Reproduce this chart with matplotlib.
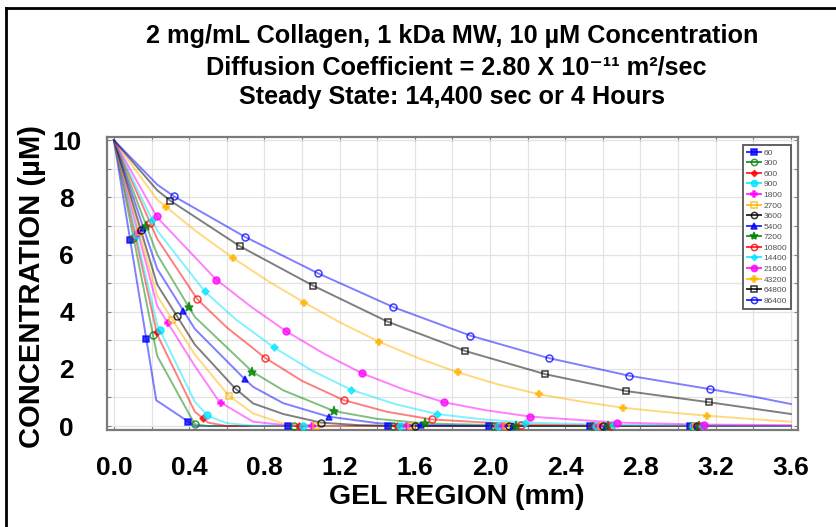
import numpy as np
import matplotlib
matplotlib.use("Agg")
import matplotlib.pyplot as plt
from matplotlib.lines import Line2D
from matplotlib.ticker import MultipleLocator

plt.rcParams['font.family'] = ['Liberation Sans', 'DejaVu Sans']

# ---- concentration profiles (uM) vs gel position (mm), one per time (s) ----
times = [60, 300, 600, 900, 1800, 2700, 3600, 5400, 7200,
         10800, 14400, 21600, 43200, 64800, 86400]

x_60 = [0, 0.225, 0.43, 3.6]
y_60 = [10, 0.9, 0.0, 0.0]

x_300 = [0, 0.23, 0.43, 0.5, 3.6]
y_300 = [10, 2.45, 0.06, 0.0, 0.0]

x_600 = [0, 0.23, 0.43, 0.5, 0.6, 3.6]
y_600 = [10, 3.2, 0.5, 0.12, 0.0, 0.0]

x_900 = [0, 0.23, 0.43, 0.5, 0.6, 0.74, 3.6]
y_900 = [10, 3.55, 0.85, 0.35, 0.1, 0.01, 0.0]

x_1800 = [0, 0.23, 0.43, 0.56, 0.74, 0.9, 1.05, 3.6]
y_1800 = [10, 4.2, 2.1, 0.85, 0.15, 0.04, 0.0, 0.0]

x_2700 = [0, 0.23, 0.43, 0.608, 0.74, 0.9, 1.1, 3.6]
y_2700 = [10, 4.55, 2.5, 1.08, 0.44, 0.08, 0.0, 0.0]

x_3600 = [0, 0.23, 0.43, 0.644, 0.74, 0.9, 1.1, 1.3, 1.5, 3.6]
y_3600 = [10, 4.95, 2.85, 1.32, 0.79, 0.42, 0.12, 0.03, 0.0, 0.0]

x_5400 = [0, 0.23, 0.43, 0.697, 0.74, 0.9, 1.14, 1.4, 1.63, 2.0, 3.6]
y_5400 = [10, 5.5, 3.4, 1.63, 1.37, 0.8, 0.33, 0.1, 0.03, 0.0, 0.0]

x_7200 = [0, 0.23, 0.43, 0.736, 0.9, 1.172, 1.4, 1.654, 2.2, 3.6]
y_7200 = [10, 6.0, 3.82, 1.90, 1.25, 0.52, 0.25, 0.09, 0.0, 0.0]

x_10800 = [0, 0.23, 0.443, 0.6, 0.803, 1.0, 1.22, 1.45, 1.69, 2.165, 2.7, 3.6]
y_10800 = [10, 6.55, 4.44, 3.45, 2.39, 1.58, 0.91, 0.5, 0.23, 0.05, 0.01, 0.0]

x_14400 = [0, 0.23, 0.484, 0.65, 0.851, 1.05, 1.264, 1.5, 1.716, 1.95, 2.19, 2.7, 3.6]
y_14400 = [10, 6.84, 4.70, 3.72, 2.75, 1.95, 1.26, 0.76, 0.42, 0.24, 0.12, 0.03, 0.0]

x_21600 = [0, 0.23, 0.543, 0.73, 0.915, 1.12, 1.321, 1.54, 1.755, 1.98, 2.213,
           2.674, 3.13, 3.6]
y_21600 = [10, 7.3, 5.13, 4.17, 3.32, 2.52, 1.84, 1.28, 0.83, 0.55, 0.33,
           0.12, 0.05, 0.03]

x_43200 = [0, 0.23, 0.43, 0.631, 0.82, 1.012, 1.21, 1.41, 1.62, 1.828, 2.04,
           2.262, 2.48, 2.706, 2.93, 3.152, 3.38, 3.6]
y_43200 = [10, 7.92, 6.85, 5.89, 5.07, 4.32, 3.6, 2.95, 2.37, 1.88, 1.46,
           1.11, 0.86, 0.64, 0.49, 0.36, 0.25, 0.15]

x_64800 = [0, 0.23, 0.301, 0.670, 1.06, 1.456, 1.871, 2.296, 2.727, 3.167, 3.6]
y_64800 = [10, 8.25, 7.88, 6.29, 4.91, 3.65, 2.62, 1.81, 1.22, 0.83, 0.42]

x_86400 = [0, 0.23, 0.319, 0.697, 1.087, 1.486, 1.897, 2.31, 2.74, 3.17, 3.4, 3.6]
y_86400 = [10, 8.45, 8.04, 6.62, 5.34, 4.16, 3.16, 2.38, 1.76, 1.29, 1.03, 0.77]

series_x = [x_60, x_300, x_600, x_900, x_1800, x_2700, x_3600, x_5400, x_7200,
            x_10800, x_14400, x_21600, x_43200, x_64800, x_86400]
series_y = [y_60, y_300, y_600, y_900, y_1800, y_2700, y_3600, y_5400, y_7200,
            y_10800, y_14400, y_21600, y_43200, y_64800, y_86400]

x_ticks = [0.0, 0.4, 0.8, 1.2, 1.6, 2.0, 2.4, 2.8, 3.2, 3.6]
y_ticks = [0, 2, 4, 6, 8, 10]

# ---- styles ----
palette = ['#0000ff', '#008000', '#ff0000', '#00e5ff', '#ff00ff', '#ffb300', '#000000']
marker_cycle = [('s', True), ('o', False), ('D', True), ('o', True), ('P', True),
                ('s', False), ('o', False), ('^', True), ('*', True), ('o', False),
                ('D', True), ('o', True), ('P', True), ('s', False), ('o', False)]
marker_size = {'s': 4.5, 'o': 5.0, 'D': 3.5, 'P': 5.0, '^': 5.0, '*': 6.5}

fig = plt.figure(figsize=(8.36, 5.27), dpi=100)
ax = fig.add_axes([107 / 836, (527 - 430) / 527, 691 / 836, 293 / 527])
ax.set_xlim(-0.037, 3.638)
ax.set_ylim(-0.14, 10.115)


def arc_markers(xs, ys, n=8):
    """Points spaced evenly along the drawn polyline (display space)."""
    pts = ax.transData.transform(np.column_stack([xs, ys]))
    seg = np.hypot(*np.diff(pts, axis=0).T)
    cum = np.concatenate([[0.0], np.cumsum(seg)])
    targets = cum[-1] * np.arange(1, n + 1) / (n + 1)
    mx = np.interp(targets, cum, pts[:, 0])
    my = np.interp(targets, cum, pts[:, 1])
    return ax.transData.inverted().transform(np.column_stack([mx, my]))


handles = []
for i, (t, xs, ys) in enumerate(zip(times, series_x, series_y)):
    col = palette[i % len(palette)]
    mk, fill = marker_cycle[i]
    ms = marker_size[mk]
    mfc = col if fill else 'none'
    ax.plot(xs, ys, color=col, alpha=0.5, lw=1.4, zorder=3)
    mpts = arc_markers(xs, ys)
    ax.plot(mpts[:, 0], mpts[:, 1], ls='none', marker=mk, ms=ms, mfc=mfc,
            mec=col, mew=1.1, alpha=0.75, zorder=4)
    handles.append(Line2D([], [], color=col, lw=1.4, marker=mk, ms=ms - 0.5,
                          mfc=mfc, mec=col, mew=1.1, alpha=0.8, label=str(t)))

# axes styling
ax.xaxis.set_minor_locator(MultipleLocator(0.2))
ax.yaxis.set_minor_locator(MultipleLocator(1))
ax.set_xticks(x_ticks)
ax.set_xticklabels([f"{v:.1f}" for v in x_ticks])
ax.set_yticks(y_ticks)
ax.set_yticklabels([str(v) for v in y_ticks])
ax.grid(True, which='both', color='#e3e3e3', lw=0.9, zorder=0)
ax.tick_params(which='both', direction='in', length=3, color='#808080',
               top=True, right=True, width=0.8)
ax.tick_params(axis='x', pad=19, labelsize=19)
ax.tick_params(axis='y', pad=29, labelsize=19)
for lab in ax.get_xticklabels() + ax.get_yticklabels():
    lab.set_fontweight('bold')
for lab in ax.get_yticklabels():
    lab.set_horizontalalignment('center')
for sp in ax.spines.values():
    sp.set_color('#7a7a7a')
    sp.set_linewidth(1.6)

leg = ax.legend(handles=handles, loc='upper right',
                bbox_to_anchor=(791 / 836, 1 - 145 / 527),
                bbox_transform=fig.transFigure, borderaxespad=0,
                fontsize=6, handlelength=1.7, handletextpad=0.35,
                labelspacing=0.33, borderpad=0.45, fancybox=False,
                framealpha=1, edgecolor='#555555')
leg.get_frame().set_linewidth(1.3)
for txt in leg.get_texts():
    txt.set_color('#505050')

# titles and axis names
title_font = dict(ha='center', va='center', fontsize=18.2, fontweight='bold',
                  family=['Liberation Sans', 'DejaVu Sans'])
fig.text(452 / 836, 1 - 36 / 527,
         "2 mg/mL Collagen, 1 kDa MW, 10 \u00b5M Concentration", **title_font)
fig.text(456 / 836, 1 - 67 / 527,
         "Diffusion Coefficient = 2.80 X 10\u207b\u00b9\u00b9 m\u00b2/sec", **title_font)
fig.text(452 / 836, 1 - 97 / 527,
         "Steady State: 14,400 sec or 4 Hours", **title_font)
fig.text(457 / 836, 1 - 497 / 527, "GEL REGION (mm)",
         ha='center', va='center', fontsize=20.5, fontweight='bold')
fig.text(32 / 836, 1 - 287 / 527, "CONCENTRATION (\u00b5M)", rotation=90,
         ha='center', va='center', fontsize=21, fontweight='bold')

# outer frame (top and left edges)
fig.add_artist(Line2D([6 / 836, 1.0], [1 - 8 / 527, 1 - 8 / 527],
                      transform=fig.transFigure, color='black', lw=2))
fig.add_artist(Line2D([6 / 836, 6 / 836], [0.0, 1 - 8 / 527],
                      transform=fig.transFigure, color='black', lw=2))

fig.savefig("out.png", dpi=100)
